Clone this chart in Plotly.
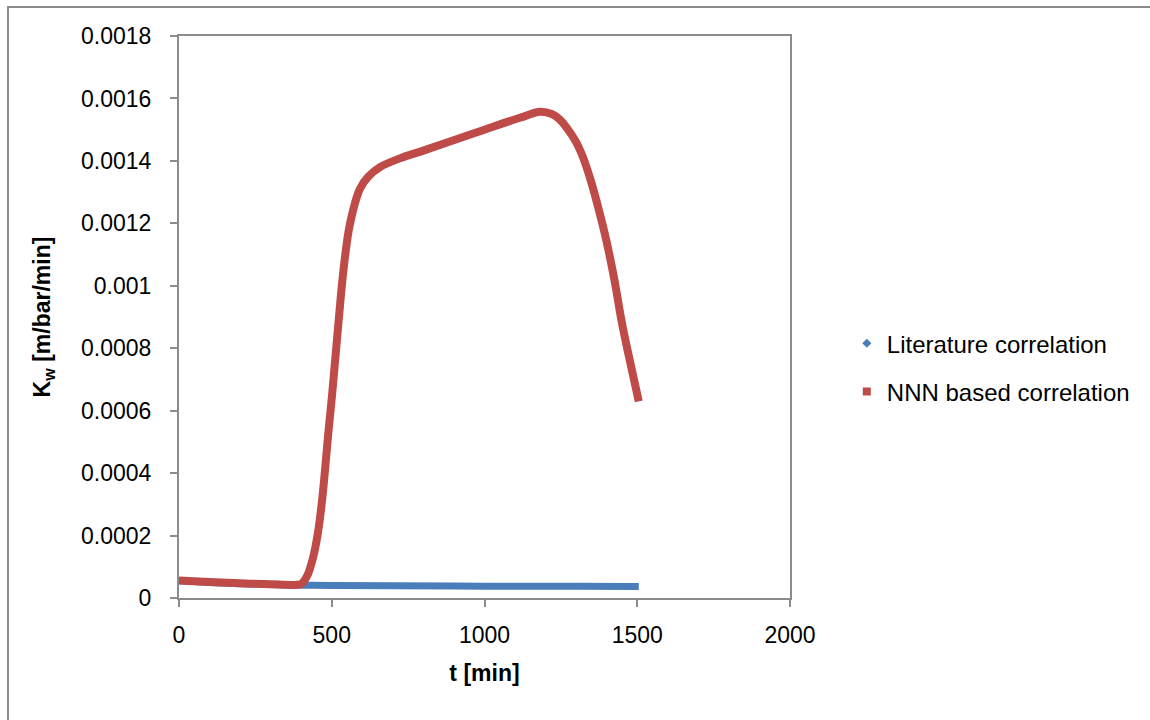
import plotly.graph_objects as go

# ---- data ----
t_lit = [0, 100, 200, 300, 400, 500, 700, 1000, 1300, 1505]
k_lit = [0.000055, 0.000050, 0.000046, 0.000043, 0.000041, 0.000040,
         0.000039, 0.000038, 0.0000375, 0.000037]

t_nnn = [0, 100, 200, 300, 380, 400, 419, 439, 455, 468, 478, 488, 501, 511,
         520, 530, 543, 560, 592, 620, 658, 723, 800, 887, 1000, 1116, 1182,
         1220, 1247, 1270, 1300, 1325, 1350, 1375, 1400, 1425, 1450, 1478, 1505]
k_nnn = [0.000056, 0.000051, 0.000047, 0.000044, 0.000042, 0.000045, 0.00007,
         0.00013, 0.00021, 0.00031, 0.00041, 0.00052, 0.00065, 0.00076,
         0.00086, 0.00097, 0.00109, 0.0012, 0.00131, 0.00135, 0.00138,
         0.001408, 0.001433, 0.001462, 0.0015, 0.001538, 0.001557, 0.00155,
         0.001532, 0.001505, 0.00146, 0.001405, 0.00133, 0.00124, 0.00114,
         0.00102, 0.00088, 0.00075, 0.00063]

series_names = ["Literature correlation", "NNN based correlation"]
x_ticks = [0, 500, 1000, 1500, 2000]
y_ticks = [0, 0.0002, 0.0004, 0.0006, 0.0008, 0.001, 0.0012, 0.0014, 0.0016, 0.0018]
y_ticktext = ["0", "0.0002", "0.0004", "0.0006", "0.0008", "0.001",
              "0.0012", "0.0014", "0.0016", "0.0018"]

BLUE = "#4A7EBB"
RED = "#BE4B48"
GRAY = "#8C8C8C"
FONT = "Liberation Sans"

fig = go.Figure()
fig.add_trace(go.Scatter(x=t_lit, y=k_lit, mode="lines",
                         line=dict(color=BLUE, width=7, shape="spline", smoothing=1),
                         showlegend=False))
fig.add_trace(go.Scatter(x=t_nnn, y=k_nnn, mode="lines",
                         line=dict(color=RED, width=8, shape="spline", smoothing=1),
                         showlegend=False))
# legend entries (marker symbols as in the reference)
fig.add_trace(go.Scatter(x=[None], y=[None], mode="markers", name=series_names[0],
                         marker=dict(symbol="diamond", size=7, color=BLUE),
                         legendgroup="a"))
fig.add_trace(go.Scatter(x=[None], y=[None], mode="markers", name=series_names[1],
                         marker=dict(symbol="square", size=8, color=RED),
                         legendgroup="b"))

axis_common = dict(showgrid=False, zeroline=False, showline=True, mirror=True,
                   linecolor=GRAY, linewidth=2, ticks="outside", ticklen=7,
                   tickwidth=2, tickcolor=GRAY,
                   tickfont=dict(family=FONT, size=23, color="#000000"))

fig.update_layout(
    width=1150, height=720,
    margin=dict(l=179, r=360, t=36, b=122),
    paper_bgcolor="white", plot_bgcolor="white",
    font=dict(family=FONT, color="#000000"),
    xaxis=dict(range=[0, 2000], tickvals=x_ticks,
               title=dict(text="<b>t [min]</b>", font=dict(family=FONT, size=23),
                          standoff=18),
               ticklabelstandoff=8, **axis_common),
    yaxis=dict(range=[0, 0.0018], tickvals=y_ticks, ticktext=y_ticktext,
               title=dict(text="<b>K<sub>w</sub> [m/bar/min]</b>",
                          font=dict(family=FONT, size=23), standoff=24),
               ticklabelstandoff=14, **axis_common),
    legend=dict(x=1.093, y=0.41, xanchor="left", yanchor="middle",
                font=dict(family=FONT, size=24), traceorder="grouped",
                tracegroupgap=14, bgcolor="rgba(0,0,0,0)"),
    shapes=[dict(type="rect", xref="paper", yref="paper",
                 x0=-0.2799, x1=1.62, y0=-0.25, y1=1.0516,
                 line=dict(color=GRAY, width=2), layer="below")],
)

fig.write_html("out.html")
